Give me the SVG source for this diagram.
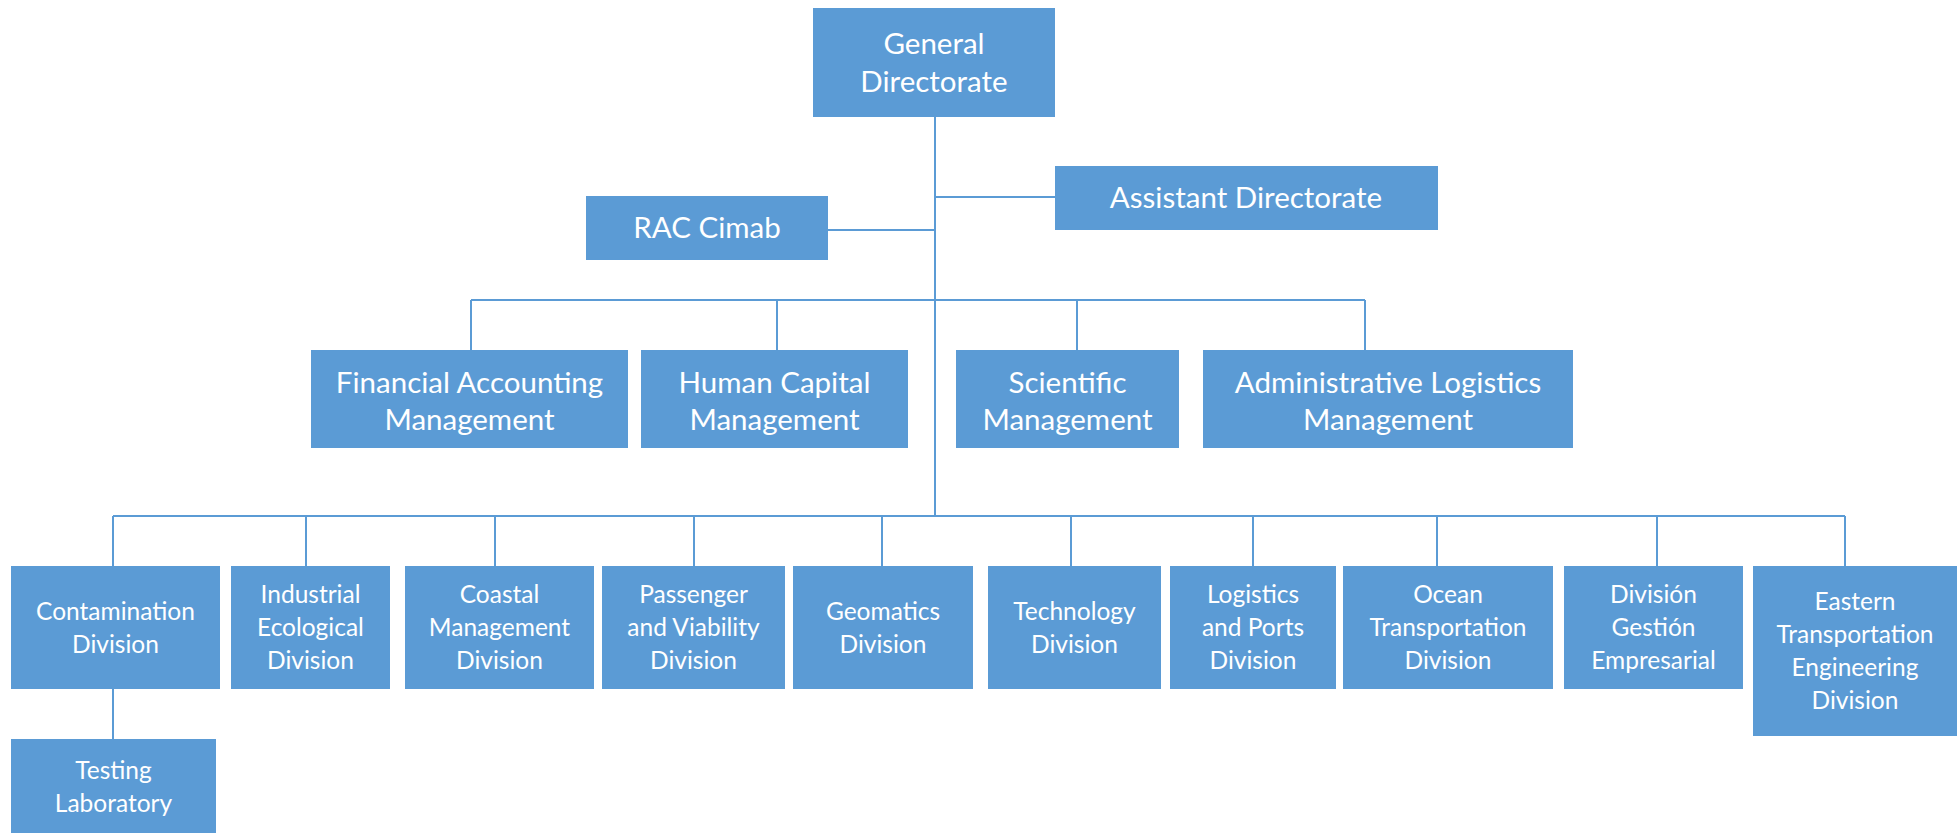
<svg xmlns="http://www.w3.org/2000/svg" width="1957" height="833" viewBox="0 0 1957 833">
<style>
.box{fill:#5B9BD5;}
.t{font-family:Lato,"Liberation Sans",sans-serif;fill:#ffffff;text-anchor:middle;}
.l{font-size:29.5px;}
.s{font-size:24.5px;}
.c{stroke:#5B9BD5;stroke-width:2;fill:none;}
</style>
<rect width="1957" height="833" fill="#ffffff"/>
<g id="connectors">
<path class="c" d="M935 117 V516"/>
<path class="c" d="M935 197 H1055"/>
<path class="c" d="M828 230 H935"/>
<path class="c" d="M471 300 H1365 M471 300 V350 M777 300 V350 M1077 300 V350 M1365 300 V350"/>
<path class="c" d="M113 516 H1845 M113 516 V566 M306 516 V566 M495 516 V566 M694 516 V566 M882 516 V566 M1071 516 V566 M1253 516 V566 M1437 516 V566 M1657 516 V566 M1845 516 V566"/>
<path class="c" d="M113 689 V739"/>
</g>
<g id="general"><rect class="box" x="813" y="8" width="242" height="109"/><text class="t l" x="934" y="54">General</text><text class="t l" x="934" y="92">Directorate</text></g>
<g id="assistant"><rect class="box" x="1055" y="166" width="383" height="64"/><text class="t l" x="1246" y="208">Assistant Directorate</text></g>
<g id="rac"><rect class="box" x="586" y="196" width="242" height="64"/><text class="t l" x="707" y="238">RAC Cimab</text></g>
<g id="financial"><rect class="box" x="311" y="350" width="317" height="98"/><text class="t l" x="469.5" y="393">Financial Accounting</text><text class="t l" x="469.5" y="430">Management</text></g>
<g id="human"><rect class="box" x="641" y="350" width="267" height="98"/><text class="t l" x="774.5" y="393">Human Capital</text><text class="t l" x="774.5" y="430">Management</text></g>
<g id="scientific"><rect class="box" x="956" y="350" width="223" height="98"/><text class="t l" x="1067.5" y="393">Scientific</text><text class="t l" x="1067.5" y="430">Management</text></g>
<g id="admin"><rect class="box" x="1203" y="350" width="370" height="98"/><text class="t l" x="1388" y="393">Administrative Logistics</text><text class="t l" x="1388" y="430">Management</text></g>
<g id="contamination"><rect class="box" x="11" y="566" width="209" height="123"/><text class="t s" x="115.5" y="620">Contamination</text><text class="t s" x="115.5" y="653">Division</text></g>
<g id="industrial"><rect class="box" x="231" y="566" width="159" height="123"/><text class="t s" x="310.5" y="603">Industrial</text><text class="t s" x="310.5" y="636">Ecological</text><text class="t s" x="310.5" y="669">Division</text></g>
<g id="coastal"><rect class="box" x="405" y="566" width="189" height="123"/><text class="t s" x="499.5" y="603">Coastal</text><text class="t s" x="499.5" y="636">Management</text><text class="t s" x="499.5" y="669">Division</text></g>
<g id="passenger"><rect class="box" x="602" y="566" width="183" height="123"/><text class="t s" x="693.5" y="603">Passenger</text><text class="t s" x="693.5" y="636">and Viability</text><text class="t s" x="693.5" y="669">Division</text></g>
<g id="geomatics"><rect class="box" x="793" y="566" width="180" height="123"/><text class="t s" x="883" y="620">Geomatics</text><text class="t s" x="883" y="653">Division</text></g>
<g id="technology"><rect class="box" x="988" y="566" width="173" height="123"/><text class="t s" x="1074.5" y="620">Technology</text><text class="t s" x="1074.5" y="653">Division</text></g>
<g id="logistics"><rect class="box" x="1170" y="566" width="166" height="123"/><text class="t s" x="1253" y="603">Logistics</text><text class="t s" x="1253" y="636">and Ports</text><text class="t s" x="1253" y="669">Division</text></g>
<g id="ocean"><rect class="box" x="1343" y="566" width="210" height="123"/><text class="t s" x="1448" y="603">Ocean</text><text class="t s" x="1448" y="636">Transportation</text><text class="t s" x="1448" y="669">Division</text></g>
<g id="gestion"><rect class="box" x="1564" y="566" width="179" height="123"/><text class="t s" x="1653.5" y="603">División</text><text class="t s" x="1653.5" y="636">Gestión</text><text class="t s" x="1653.5" y="669">Empresarial</text></g>
<g id="eastern"><rect class="box" x="1753" y="566" width="204" height="170"/><text class="t s" x="1855" y="610">Eastern</text><text class="t s" x="1855" y="643">Transportation</text><text class="t s" x="1855" y="676">Engineering</text><text class="t s" x="1855" y="709">Division</text></g>
<g id="testing"><rect class="box" x="11" y="739" width="205" height="94"/><text class="t s" x="113.5" y="779">Testing</text><text class="t s" x="113.5" y="812">Laboratory</text></g>
</svg>
